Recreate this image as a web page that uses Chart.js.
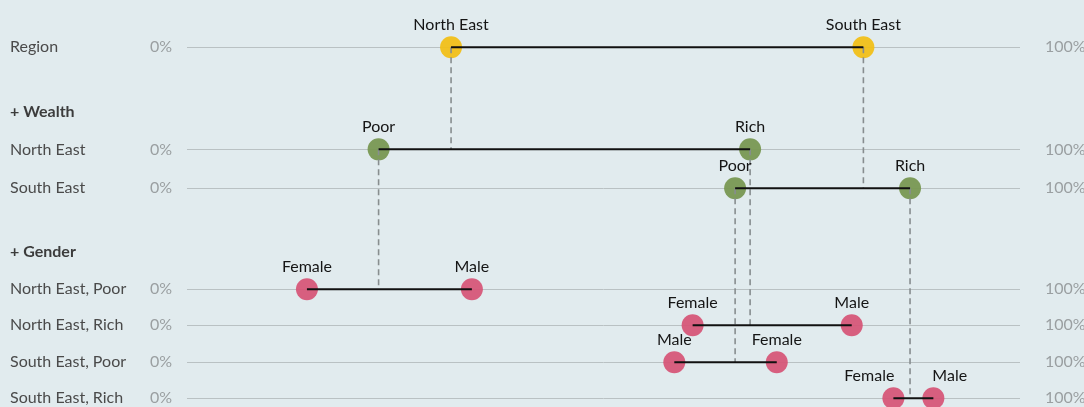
<!DOCTYPE html>
<html>
<head>
<meta charset="utf-8">
<script src="https://cdn.jsdelivr.net/npm/chart.js@4.4.1/dist/chart.umd.min.js"></script>
<style>
  html, body { margin: 0; padding: 0; background: #e1ebee; }
  #wrap { position: relative; width: 1084px; height: 407px; }
</style>
</head>
<body>
<div id="wrap"><canvas id="dotChart"></canvas></div>
<script>
    // row labels down the left side (headers have no grid line)
    const rowLabels = ['Region', '+ Wealth', 'North East', 'South East', '+ Gender',
        'North East, Poor', 'North East, Rich', 'South East, Poor', 'South East, Rich'];
    const headerRows = ['+ Wealth', '+ Gender'];

    // level 1: region
    const regionNames = ['North East', 'South East'];
    const regionValues = [31.7, 81.2];

    // level 2: region + wealth  (rows: North East, South East)
    const wealthNames = ['Poor', 'Rich'];
    const wealthValues = [[23.0, 67.6], [65.8, 86.8]];

    // level 3: region + wealth + gender
    const genderNames = ['Female', 'Male'];
    const genderValues = [[14.4, 34.2], [60.7, 79.8], [70.8, 58.5], [84.8, 89.6]];

    // layout: vertical slot of each row (in row units)
    const rowPos = [0, 1.77, 2.78, 3.84, 5.58, 6.59, 7.57, 8.58, 9.56];
    const yMin = -1.29, yMax = 9.8;

    const FONT = 'Lato, "Open Sans", sans-serif';
    const colors = { region: 'rgba(242,190,20,0.93)', wealth: 'rgba(120,152,82,0.95)', gender: 'rgba(214,84,118,0.93)' };

    const rowY = name => rowPos[rowLabels.indexOf(name)];
    const datasets = [];

    function addLevel(rows, names, values, color, parents) {
        const pts = [];
        rows.forEach((row, r) => {
            const y = rowY(row);
            const vals = values[r];
            vals.forEach((v, k) => pts.push({ x: v, y: y, name: names[k] }));
            // solid connector between the pair
            datasets.push({
                type: 'scatter', showLine: true, order: 0,
                data: [{ x: vals[0], y: y }, { x: vals[1], y: y }],
                borderColor: '#111', borderWidth: 2, pointRadius: 0
            });
            // dashed drop from the parent value
            if (parents) {
                const p = parents[r];
                datasets.push({
                    type: 'scatter', showLine: true, order: 1,
                    data: [{ x: p.x, y: p.y }, { x: p.x, y: y }],
                    borderColor: '#878d8f', borderWidth: 1.6, borderDash: [6, 4], pointRadius: 0
                });
            }
        });
        datasets.push({
            type: 'scatter', order: 2, pointNames: true,
            data: pts, backgroundColor: color, borderWidth: 0,
            pointRadius: 11, pointHoverRadius: 11
        });
    }

    const regionRows = ['Region'];
    addLevel(regionRows, regionNames, [regionValues], colors.region, null);

    const wealthRows = ['North East', 'South East'];
    addLevel(wealthRows, wealthNames, wealthValues, colors.wealth,
        regionValues.map(v => ({ x: v, y: rowY('Region') })));

    const genderRows = ['North East, Poor', 'North East, Rich', 'South East, Poor', 'South East, Rich'];
    const genderParents = [];
    wealthRows.forEach((row, r) => wealthValues[r].forEach(v => genderParents.push({ x: v, y: rowY(row) })));
    addLevel(genderRows, genderNames, genderValues, colors.gender, genderParents);

    // names written above each dot; close pairs push their labels outward
    const pointLabels = {
        id: 'pointLabels',
        afterDatasetsDraw(chart) {
            const ctx = chart.ctx;
            ctx.save();
            ctx.font = '16px ' + FONT;
            ctx.fillStyle = '#151515';
            ctx.textBaseline = 'alphabetic';
            chart.data.datasets.forEach((ds, i) => {
                if (!ds.pointNames) return;
                const els = chart.getDatasetMeta(i).data;
                for (let j = 0; j < els.length; j += 2) {
                    const a = els[j], b = els[j + 1];
                    const ta = ds.data[j].name, tb = ds.data[j + 1].name;
                    const need = (ctx.measureText(ta).width + ctx.measureText(tb).width) / 2 + 8;
                    const close = Math.abs(a.x - b.x) < need;
                    const left = a.x <= b.x ? [a, ta] : [b, tb];
                    const right = a.x <= b.x ? [b, tb] : [a, ta];
                    ctx.textAlign = close ? 'right' : 'center';
                    ctx.fillText(left[1], left[0].x + (close ? 1 : 0), left[0].y - 17);
                    ctx.textAlign = close ? 'left' : 'center';
                    ctx.fillText(right[1], right[0].x - (close ? 1 : 0), right[0].y - 17);
                }
            });
            ctx.restore();
        }
    };

    const dataRows = rowLabels.filter(l => !headerRows.includes(l));
    const dataPos = dataRows.map(l => rowY(l));

    // fixed axis widths, no extra top/bottom padding so rows land where they should
    const fitTo = w => s => { s.width = w; s.paddingTop = 0; s.paddingBottom = 0; };

    const ctx = document.getElementById('dotChart').getContext('2d');
    new Chart(ctx, {
        type: 'scatter',
        data: { datasets: datasets },
        options: {
            responsive: true,
            maintainAspectRatio: false,
            animation: false,
            layout: { autoPadding: false, padding: { left: 10, right: 0, top: 0, bottom: 0 } },
            plugins: { legend: { display: false }, tooltip: { enabled: false } },
            scales: {
                x: { type: 'linear', min: 0, max: 100, display: false },
                y: {
                    type: 'linear', position: 'left', reverse: true, min: yMin, max: yMax, weight: 1,
                    afterBuildTicks: s => { s.ticks = dataPos.map(v => ({ value: v })); },
                    afterFit: fitTo(37),
                    ticks: { autoSkip: false, padding: 15, crossAlign: 'near', color: '#9a9fa1',
                        font: { family: FONT, size: 16 }, callback: () => '0%' },
                    grid: { display: true, drawTicks: false, color: '#b9c1c3', lineWidth: 1 },
                    border: { display: false }
                },
                yLabels: {
                    type: 'linear', position: 'left', reverse: true, min: yMin, max: yMax, weight: 2,
                    afterBuildTicks: s => { s.ticks = rowPos.map(v => ({ value: v })); },
                    afterFit: fitTo(140),
                    ticks: {
                        autoSkip: false, padding: 0, crossAlign: 'far',
                        color: c => headerRows.includes(rowLabels[c.index]) ? '#3c3c3c' : '#4a4a4a',
                        font: c => ({ family: FONT, size: 16,
                            weight: headerRows.includes(rowLabels[c.index]) ? 'bold' : 'normal' }),
                        callback: (v, i) => rowLabels[i]
                    },
                    grid: { display: false, drawTicks: false },
                    border: { display: false }
                },
                y100: {
                    type: 'linear', position: 'right', reverse: true, min: yMin, max: yMax,
                    afterBuildTicks: s => { s.ticks = dataPos.map(v => ({ value: v })); },
                    afterFit: fitTo(64),
                    ticks: { autoSkip: false, padding: 25, crossAlign: 'near', color: '#9a9fa1',
                        font: { family: FONT, size: 16 }, callback: () => '100%' },
                    grid: { display: false, drawTicks: false },
                    border: { display: false }
                }
            }
        },
        plugins: [pointLabels]
    });
</script>
</body>
</html>
